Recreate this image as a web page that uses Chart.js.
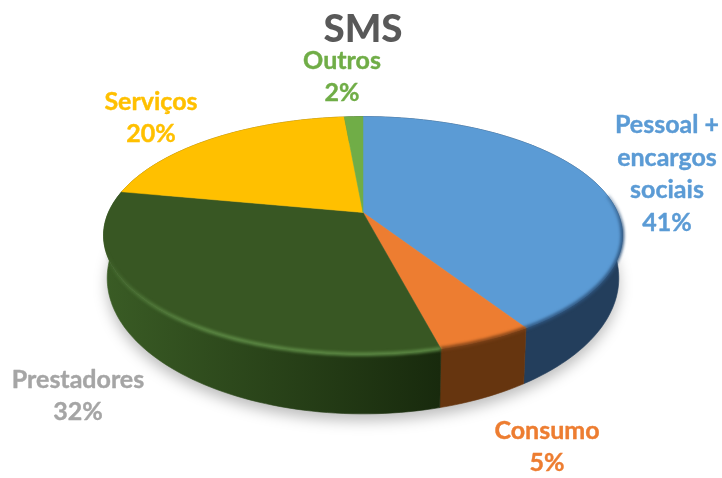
<!DOCTYPE html>
<html>
<head>
<meta charset="utf-8">
<style>html,body{margin:0;padding:0;background:#fff}canvas{display:block}</style>
<script src="https://cdn.jsdelivr.net/npm/chart.js@4"></script>
</head>
<body>
<canvas id="c" width="722" height="478"></canvas>
<script>
const titleText = 'SMS';
const categories = [['Pessoal +','encargos','sociais'],['Consumo'],['Prestadores'],['Serviços'],['Outros']];
const values = [41, 5, 32, 20.6, 1.4];
const percentLabels = ['41%','5%','32%','20%','2%'];
const sliceColors = ['#5B9BD5','#ED7D31','#385723','#FFC000','#70AD47'];
const textColors = ['#5B9BD5','#ED7D31','#A5A5A5','#FFC000','#70AD47'];
const sideLeftColors = ['#264566','#6E3A15','#3A5C25','#7F6000','#38572A'];
const sideRightColors = ['#233E5C','#66350F','#182A0D','#7F6000','#38572A'];
const rimColors = ['#2F5680','#7E4218','#5E8C46','#C89600','#5A8A3A'];
const rimFades = [[175,230],[175,300],[250,335],[175,300],[175,300]];

// label centres (separate from the data)
const labelAnchors = [[667,125],[547,430.5],[78,379.5],[151,101.5],[342,60.5]];
const labelLine = 32.6;

// perspective of the 3D pie
const tilt = -0.193, topA = 73.4, baseR = 251, baseA = 82, baseB = 252, sampleDeg = 1.5;

function proj(el, ang, base){
  const cs = Math.cos(ang), sn = Math.sin(ang), d = 1 + tilt*sn;
  const R = base ? baseR : el.outerRadius;
  const y = base ? (baseB + baseA*sn)/d : (el.y + topA*sn)/d;
  return [el.x + R*cs/d, y];
}
function arcPts(el, base, s, e){
  const a = s ?? el.startAngle, b = e ?? el.endAngle, pts = [];
  const n = Math.max(2, Math.ceil((b-a)/(Math.PI/180*sampleDeg)));
  for(let i=0;i<=n;i++) pts.push(proj(el, a+(b-a)*i/n, base));
  return pts;
}
function trace(ctx, pts, first){
  pts.forEach((p,i)=>{ (i===0 && first) ? ctx.moveTo(p[0],p[1]) : ctx.lineTo(p[0],p[1]); });
}
function hexAlpha(hex, a){
  const n = parseInt(hex.slice(1),16);
  return `rgba(${n>>16},${(n>>8)&255},${n&255},${a})`;
}

const pie3d = {
  id:'pie3d',
  beforeDatasetDraw(){ return false; },
  afterDatasetsDraw(chart){
    const ctx = chart.ctx, els = chart.getDatasetMeta(0).data;
    // soft shadow
    ctx.save();
    ctx.filter = 'blur(7px)';
    ctx.fillStyle = 'rgba(0,0,0,0.26)';
    ctx.beginPath();
    const full = arcPts(els[0], true, 0, Math.PI*2).map(p=>[p[0], p[1]+7]);
    trace(ctx, full, true); ctx.closePath(); ctx.fill();
    ctx.restore();
    // side wall
    els.forEach((el,i)=>{
      const top = arcPts(el,false), bot = arcPts(el,true).reverse();
      const g = ctx.createLinearGradient(103,0,440,0);
      g.addColorStop(0, sideLeftColors[i]); g.addColorStop(1, sideRightColors[i]);
      ctx.fillStyle = g; ctx.strokeStyle = g; ctx.lineWidth = 0.6;
      ctx.beginPath();
      trace(ctx, top, true); trace(ctx, bot, false); ctx.closePath();
      ctx.fill(); ctx.stroke();
    });
    // top faces
    els.forEach((el)=>{
      ctx.fillStyle = el.options.backgroundColor;
      ctx.strokeStyle = el.options.backgroundColor; ctx.lineWidth = 0.5;
      ctx.beginPath(); ctx.moveTo(el.x, el.y);
      trace(ctx, arcPts(el,false), false); ctx.closePath(); ctx.fill(); ctx.stroke();
    });
    // bevelled rim: fades out towards the far sides of the pie
    els.forEach((el,i)=>{
      const s = Math.max(el.startAngle, -0.15), e = Math.min(el.endAngle, Math.PI);
      if(e <= s) return;
      ctx.save();
      ctx.filter = 'blur(1.8px)';
      const g = ctx.createLinearGradient(0,rimFades[i][0],0,rimFades[i][1]);
      g.addColorStop(0, hexAlpha(rimColors[i],0));
      g.addColorStop(1, hexAlpha(rimColors[i],1));
      ctx.strokeStyle = g; ctx.lineWidth = 3.5;
      ctx.beginPath();
      trace(ctx, arcPts(el,false,s,e), true); ctx.stroke();
      ctx.restore();
    });
    // labels
    ctx.save();
    ctx.font = 'bold 25px Lato, sans-serif';
    ctx.textAlign = 'center'; ctx.textBaseline = 'middle';
    ctx.lineWidth = 0.4; ctx.lineJoin = 'round';
    categories.forEach((lines,i)=>{
      ctx.fillStyle = textColors[i]; ctx.strokeStyle = textColors[i];
      lines.concat(percentLabels[i]).forEach((t,k)=>{
        const x = labelAnchors[i][0], y = labelAnchors[i][1]+k*labelLine;
        ctx.fillText(t,x,y); ctx.strokeText(t,x,y);
      });
    });
    ctx.restore();
  }
};

new Chart(document.getElementById('c'),{
  type:'pie',
  data:{ labels:categories.map(l=>l.join(' ')), datasets:[{ data:values, backgroundColor:sliceColors, borderWidth:0 }] },
  options:{
    responsive:false, animation:false, radius:254.6,
    layout:{ padding:{ left:4, right:0, top:0, bottom:110 } },
    plugins:{
      legend:{ display:false }, tooltip:{ enabled:false },
      title:{ display:true, text:titleText, color:'#595959',
        font:{ family:'Lato', size:38.5, weight:'900', lineHeight:1.2 }, padding:{ top:6, bottom:4.8 } }
    }
  },
  plugins:[pie3d]
});
</script>
</body>
</html>
